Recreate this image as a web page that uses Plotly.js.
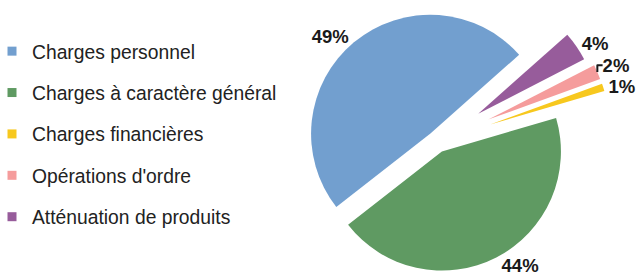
<!DOCTYPE html>
<html>
<head>
<meta charset="utf-8">
<script src="https://cdn.plot.ly/plotly-3.0.1.min.js"></script>
<style>
  html, body { margin: 0; padding: 0; width: 641px; height: 280px; overflow: hidden; background: #ffffff; }
  #chart { position: absolute; left: -8px; top: -33px; width: 649px; height: 350px; }
</style>
</head>
<body>
<div id="chart"></div>
<script>
const categories = ["Charges personnel", "Charges à caractère général", "Charges financières", "Opérations d'ordre", "Atténuation de produits"];
const values = [49, 44, 1, 2, 4];
const colors = ["#729fcf", "#5f9a62", "#f7c81e", "#f59c9c", "#975c9b"];
const pulls = [0.09, 0.09, 0.47, 0.47, 0.42];

const FONT = "Liberation Sans, Arial, sans-serif";

const pieTrace = {
  type: "pie",
  labels: categories,
  values: values,
  sort: false,
  direction: "counterclockwise",
  rotation: 232,
  pull: pulls,
  marker: { colors: colors, line: { width: 0 } },
  textinfo: "percent",
  textposition: "outside",
  outsidetextfont: { family: FONT, size: 18.5, color: "#1a1a1a", weight: "bold" },
  showlegend: false,
  hoverinfo: "label+percent",
  domain: { x: [0.416, 0.9553], y: [0, 1] }
};

const legendTraces = categories.map((name, i) => ({
  type: "scatter",
  mode: "markers",
  x: [null],
  y: [null],
  name: name,
  legendgroup: "g" + i,
  marker: { symbol: "square", size: 9, color: colors[i] },
  showlegend: true,
  hoverinfo: "skip"
}));

const layout = {
  width: 649,
  height: 350,
  margin: { l: 0, r: 0, t: 0, b: 0 },
  paper_bgcolor: "#ffffff",
  plot_bgcolor: "#ffffff",
  xaxis: { visible: false },
  yaxis: { visible: false },
  showlegend: true,
  legend: {
    x: 0, xanchor: "left",
    y: 0.814, yanchor: "top",
    font: { family: FONT, size: 19.3, color: "#222222" },
    tracegroupgap: 13.3,
    bgcolor: "rgba(0,0,0,0)"
  },
  hovermode: false
};

Plotly.newPlot("chart", [pieTrace].concat(legendTraces), layout, { displayModeBar: false, staticPlot: true });
</script>
</body>
</html>
